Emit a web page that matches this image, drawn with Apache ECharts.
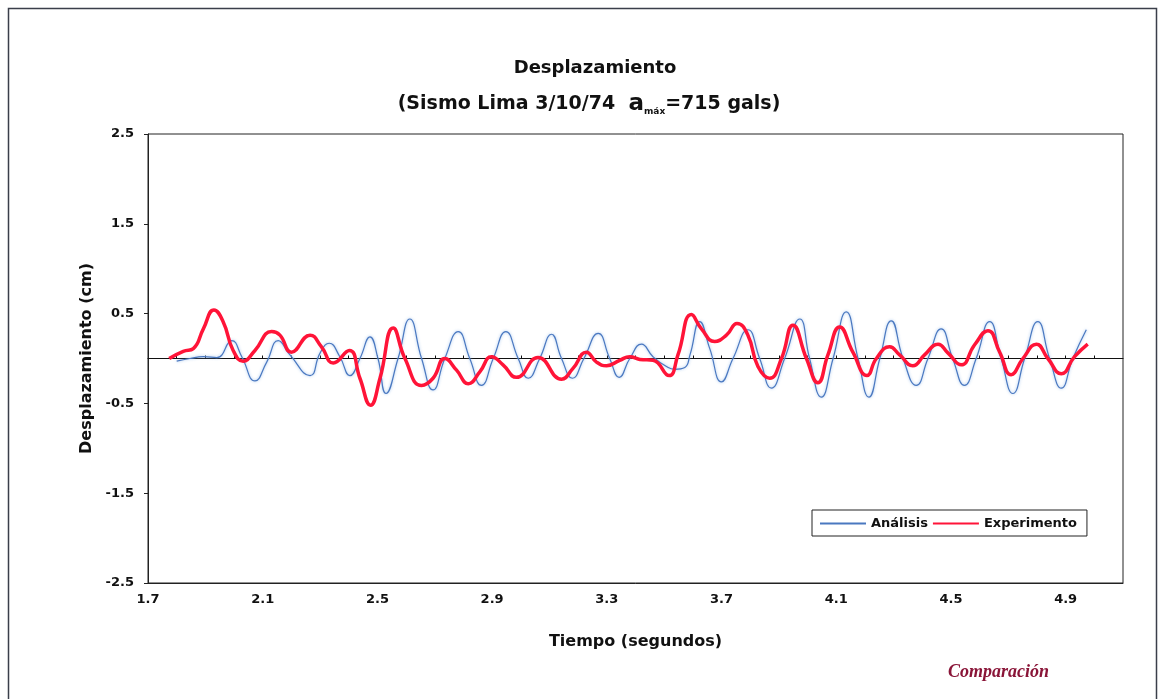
<!DOCTYPE html>
<html>
<head>
<meta charset="utf-8">
<script src="https://cdn.jsdelivr.net/npm/echarts@6/dist/echarts.min.js"></script>
<style>
  html, body { margin: 0; padding: 0; background: #fff; }
  #chart { width: 1163px; height: 699px; }
</style>
</head>
<body>
<div id="chart"></div>
<script>
// valores
const xTickLabels = [1.7, 2.1, 2.5, 2.9, 3.3, 3.7, 4.1, 4.5, 4.9];
const xMinorTicks = [1.8, 1.9, 2.0, 2.1, 2.2, 2.3, 2.4, 2.5, 2.6, 2.7, 2.8, 2.9, 3.0, 3.1, 3.2,
  3.3, 3.4, 3.5, 3.6, 3.7, 3.8, 3.9, 4.0, 4.1, 4.2, 4.3, 4.4, 4.5, 4.6, 4.7, 4.8, 4.9, 5.0];
const yTickLabels = [-2.5, -1.5, -0.5, 0.5, 1.5, 2.5];

const anaTime = [1.800, 1.846, 1.893, 1.940, 1.992, 2.027, 2.073, 2.114, 2.154, 2.195,
  2.265, 2.300, 2.332, 2.369, 2.404, 2.439, 2.474, 2.502, 2.530, 2.572,
  2.613, 2.654, 2.694, 2.735, 2.782, 2.822, 2.863, 2.904, 2.948, 2.991,
  3.026, 3.066, 3.107, 3.142, 3.180, 3.220, 3.270, 3.310, 3.343, 3.380,
  3.421, 3.461, 3.508, 3.537, 3.572, 3.590, 3.624, 3.659, 3.700, 3.740,
  3.792, 3.833, 3.874, 3.920, 3.973, 4.007, 4.048, 4.089, 4.135, 4.176,
  4.214, 4.252, 4.292, 4.333, 4.379, 4.420, 4.466, 4.506, 4.547, 4.588,
  4.635, 4.675, 4.716, 4.757, 4.803, 4.844, 4.885, 4.925, 4.972];
const anaDisp = [-0.03, 0.00, 0.02, 0.01, 0.20, 0.02, -0.25, -0.04, 0.20, 0.04,
  -0.19, 0.06, 0.17, 0.02, -0.19, 0.00, 0.24, 0.00, -0.39, 0.00,
  0.44, 0.00, -0.35, 0.00, 0.30, 0.00, -0.30, 0.00, 0.30, 0.00,
  -0.22, 0.00, 0.27, 0.00, -0.22, 0.00, 0.28, 0.00, -0.21, 0.00,
  0.16, 0.02, -0.09, -0.12, -0.10, 0.04, 0.41, 0.11, -0.26, 0.00,
  0.32, 0.00, -0.33, 0.00, 0.44, 0.00, -0.43, 0.00, 0.52, 0.00,
  -0.43, 0.00, 0.42, 0.00, -0.30, 0.00, 0.33, 0.00, -0.30, 0.00,
  0.41, 0.00, -0.39, 0.00, 0.41, 0.00, -0.33, 0.00, 0.32];

const expTime = [1.774, 1.823, 1.858, 1.893, 1.930, 1.962, 1.997, 2.032, 2.073, 2.131,
  2.160, 2.200, 2.265, 2.305, 2.346, 2.402, 2.439, 2.476, 2.509, 2.555,
  2.596, 2.654, 2.694, 2.735, 2.776, 2.817, 2.857, 2.898, 2.938, 2.985,
  3.060, 3.142, 3.182, 3.229, 3.264, 3.299, 3.345, 3.380, 3.415, 3.461,
  3.517, 3.548, 3.595, 3.630, 3.676, 3.717, 3.754, 3.792, 3.827, 3.868,
  3.909, 3.949, 3.996, 4.036, 4.071, 4.112, 4.158, 4.207, 4.240, 4.286,
  4.321, 4.367, 4.408, 4.455, 4.490, 4.536, 4.582, 4.629, 4.670, 4.710,
  4.751, 4.798, 4.838, 4.885, 4.931, 4.977];
const expDisp = [0.00, 0.08, 0.11, 0.33, 0.54, 0.41, 0.09, -0.03, 0.09, 0.30,
  0.26, 0.07, 0.26, 0.13, -0.05, 0.09, -0.22, -0.52, -0.22, 0.34,
  0.00, -0.30, -0.22, 0.00, -0.13, -0.28, -0.15, 0.02, -0.07, -0.21,
  0.01, -0.23, -0.11, 0.07, -0.04, -0.08, -0.02, 0.02, -0.01, -0.02,
  -0.19, 0.04, 0.49, 0.33, 0.19, 0.26, 0.39, 0.26, -0.09, -0.22,
  0.00, 0.37, 0.00, -0.27, 0.04, 0.35, 0.07, -0.19, 0.00, 0.13,
  0.04, -0.08, 0.04, 0.16, 0.06, -0.07, 0.15, 0.31, 0.07, -0.18,
  0.00, 0.16, 0.00, -0.17, 0.02, 0.16];

const pairs = (xs, ys) => xs.map((x, i) => [x, ys[i]]);
const FONT = '"DejaVu Sans", "Liberation Sans", Arial, sans-serif';

const chart = echarts.init(document.getElementById("chart"));

chart.setOption({
  animation: false,
  backgroundColor: "#fff",
  title: [
    {
      text: "Desplazamiento",
      left: 590,
      textAlign: "center",
      top: 54,
      textStyle: { fontFamily: FONT, fontWeight: "bold", fontSize: 18, color: "#111" },
    },
    {
      text: "(Sismo Lima 3/10/74  {a|a}{s|máx}=715 gals)",
      left: 584,
      textAlign: "center",
      top: 88,
      textStyle: {
        fontFamily: FONT, fontWeight: "bold", fontSize: 19, color: "#111",
        rich: {
          a: { fontFamily: FONT, fontWeight: "bold", fontSize: 23, color: "#111" },
          s: { fontFamily: FONT, fontWeight: "bold", fontSize: 9, color: "#111", verticalAlign: "bottom", padding: [6, 0, 0, 0] },
        },
      },
    },
  ],
  legend: {
    left: 812,
    top: 510,
    orient: "horizontal",
    padding: [7, 10, 6, 7],
    itemGap: 4,
    itemWidth: 46,
    itemHeight: 12,
    borderColor: "#222",
    borderWidth: 1,
    borderRadius: 0,
    itemStyle: { opacity: 0 },
    textStyle: { fontFamily: FONT, fontWeight: "bold", fontSize: 13, color: "#111" },
    data: ["Análisis", "Experimento"],
  },
  grid: {
    left: 148,
    right: 40,
    top: 134,
    bottom: 116,
    show: true,
    borderColor: "#222",
    borderWidth: 1,
    backgroundColor: "#fff",
  },
  xAxis: [
    {
      type: "value",
      min: 1.7,
      max: 5.1,
      position: "bottom",
      name: "Tiempo (segundos)",
      nameLocation: "middle",
      nameGap: 51,
      nameTextStyle: { fontFamily: FONT, fontWeight: "bold", fontSize: 16, color: "#111" },
      axisLine: { onZero: false, lineStyle: { color: "#222", width: 1 } },
      axisTick: { show: false },
      axisLabel: {
        customValues: xTickLabels,
        margin: 10,
        fontFamily: FONT, fontWeight: "bold", fontSize: 13, color: "#111",
        formatter: (v) => v.toFixed(1),
      },
      splitLine: { show: false },
    },
    {
      type: "value",
      min: 1.7,
      max: 5.1,
      position: "top",
      axisLine: { onZero: true, lineStyle: { color: "#111", width: 1.2 } },
      axisTick: { show: true, customValues: xMinorTicks, length: 3, inside: false, lineStyle: { color: "#111" } },
      axisLabel: { show: false },
      splitLine: { show: false },
    },
  ],
  yAxis: {
    type: "value",
    min: -2.5,
    max: 2.5,
    name: "Desplazamiento (cm)",
    nameLocation: "middle",
    nameGap: 42,
    nameTextStyle: { fontFamily: FONT, fontWeight: "bold", fontSize: 16, color: "#111" },
    axisLine: { show: true, lineStyle: { color: "#222", width: 1 } },
    axisTick: { show: true, customValues: yTickLabels, length: 4, lineStyle: { color: "#222" } },
    axisLabel: {
      customValues: yTickLabels,
      margin: 14,
      fontFamily: FONT, fontWeight: "bold", fontSize: 13, color: "#111",
      formatter: (v) => v.toFixed(1),
    },
    splitLine: { show: false },
  },
  series: [
    {
      name: "Análisis",
      type: "line",
      xAxisIndex: 0,
      smooth: 0.5,
      symbol: "none",
      data: pairs(anaTime, anaDisp),
      itemStyle: { color: "#4a78c0" },
      lineStyle: {
        color: "#4a78c0",
        width: 1.2,
        shadowColor: "rgba(130,175,230,0.8)",
        shadowBlur: 3,
      },
      z: 3,
    },
    {
      name: "Experimento",
      type: "line",
      xAxisIndex: 0,
      smooth: 0.5,
      symbol: "none",
      data: pairs(expTime, expDisp),
      itemStyle: { color: "#ff1438" },
      lineStyle: { color: "#ff1438", width: 3.5 },
      z: 4,
    },
  ],
  graphic: [
    {
      type: "rect",
      shape: { x: 8.5, y: 8.5, width: 1148, height: 720 },
      style: { fill: "none", stroke: "#3a3f4a", lineWidth: 1.5 },
      silent: true,
    },
    {
      type: "text",
      left: 948,
      top: 663,
      style: {
        text: "Comparación",
        font: 'italic bold 18px "Liberation Serif", "DejaVu Serif", serif',
        fill: "#8a1538",
      },
    },
  ],
});
</script>
</body>
</html>
